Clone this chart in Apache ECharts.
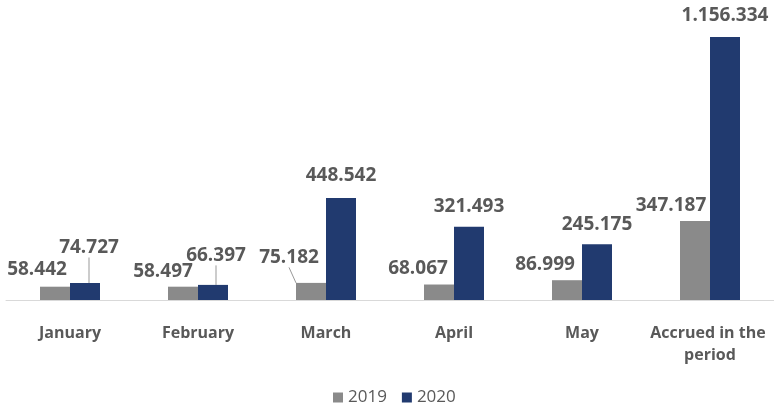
<!DOCTYPE html>
<html>
<head>
<meta charset="utf-8">
<script src="https://cdn.jsdelivr.net/npm/echarts@6/dist/echarts.min.js"></script>
<style>
  html, body { margin: 0; padding: 0; background: #ffffff; }
  #chart { width: 774px; height: 405px; }
</style>
</head>
<body>
<div id="chart"></div>
<script>
// Monthly totals, 2019 vs 2020
const categories = ['January', 'February', 'March', 'April', 'May', 'Accrued in the period'];
const seriesNames = ['2019', '2020'];
const values2019 = [58442, 58497, 75182, 68067, 86999, 347187];
const values2020 = [74727, 66397, 448542, 321493, 245175, 1156334];

// Label placement: centre of each value label relative to the top-centre of its bar
const labelShift2019 = [[-18, -17], [-20, -15], [-22, -25], [-21, -16], [-22, -16], [-24, -15]];
const labelShift2020 = [[4, -35], [3, -29], [0, -22], [0, -20], [0, -20], [0, -21]];
// Which labels get a leader line
const leader2019 = [false, false, true, false, false, false];
const leader2020 = [true, true, false, false, false, false];

const GRAY = '#8a8a8a';
const BLUE = '#213a6f';
const TEXT = '#595959';

function fmt(v) {
  return String(v).replace(/\B(?=(\d{3})+(?!\d))/g, '.');
}

function buildData(values, leaders) {
  return values.map((v, i) => ({
    value: v,
    labelLine: { show: leaders[i] }
  }));
}

const shifts = [labelShift2019, labelShift2020];

const chart = echarts.init(document.getElementById('chart'), null, { renderer: 'canvas' });

const labelStyle = {
  show: true,
  position: 'top',
  formatter: p => fmt(p.value),
  color: TEXT,
  fontSize: 19,
  fontWeight: 'bold',
  fontFamily: '"Open Sans", sans-serif'
};

const guideStyle = { show: false, lineStyle: { color: '#999999', width: 1 } };

chart.setOption({
  animation: false,
  backgroundColor: '#ffffff',
  grid: { left: 6, width: 770, top: 27, bottom: 105, containLabel: false },
  legend: {
    data: seriesNames,
    top: 384,
    left: 328,
    icon: 'rect',
    itemWidth: 10,
    itemHeight: 10,
    itemGap: 15,
    textStyle: { color: TEXT, fontSize: 17, fontFamily: '"Open Sans", sans-serif' }
  },
  xAxis: {
    type: 'category',
    data: categories,
    axisLine: { show: true, lineStyle: { color: '#d9d9d9', width: 1 } },
    axisTick: { show: false },
    axisLabel: {
      interval: 0,
      margin: 22,
      color: TEXT,
      fontSize: 16,
      fontWeight: 'bold',
      lineHeight: 22,
      fontFamily: '"Open Sans", sans-serif',
      width: 122,
      overflow: 'break'
    }
  },
  yAxis: {
    type: 'value',
    min: 0,
    max: 1200000,
    show: false,
    splitLine: { show: false }
  },
  labelLayout: function (params) {
    const s = shifts[params.seriesIndex][params.dataIndex];
    const r = params.rect;
    const top = Math.min(r.y, r.y + r.height);
    return {
      x: r.x + r.width / 2 + s[0],
      y: top + s[1],
      align: 'center',
      verticalAlign: 'middle'
    };
  },
  series: [
    {
      name: seriesNames[0],
      type: 'bar',
      data: buildData(values2019, leader2019),
      barWidth: 30,
      barGap: '0%',
      itemStyle: { color: GRAY },
      label: labelStyle,
      labelLine: guideStyle
    },
    {
      name: seriesNames[1],
      type: 'bar',
      data: buildData(values2020, leader2020),
      barWidth: 30,
      barGap: '0%',
      itemStyle: { color: BLUE },
      label: labelStyle,
      labelLine: guideStyle
    }
  ]
});
</script>
</body>
</html>
